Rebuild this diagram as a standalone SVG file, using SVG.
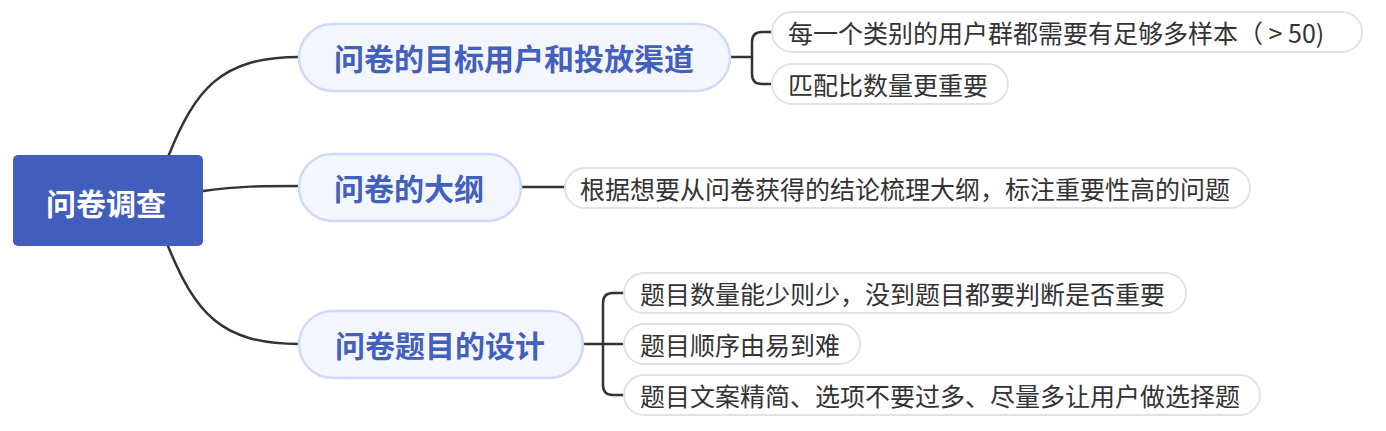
<svg xmlns="http://www.w3.org/2000/svg" width="1386" height="431" viewBox="0 0 1386 431">
<style>
text{font-family:"Noto Sans CJK SC","Noto Sans",sans-serif;dominant-baseline:central;text-anchor:middle}
.root{fill:#425EBD}
.rt{fill:#fff;font-size:30px;font-weight:bold}
.br{fill:#F4F6FE;stroke:#CFD9FA;stroke-width:2.5}
.bt{fill:#4260BD;font-size:30px;font-weight:bold}
.lf{fill:#fff;stroke:#E2E2E2;stroke-width:2}
.lt{fill:#333;font-size:25px;text-anchor:start}
.c{fill:none;stroke:#333;stroke-width:2.5;stroke-linecap:round}
</style>
<g id="connectors">
<path class="c" d="M168,157 C195,90 220,57 299,57"/>
<path class="c" d="M203,191 C240,186 260,186 299,186"/>
<path class="c" d="M168,246 C195,312 220,344 299,344"/>
<path class="c" d="M730,57 H752"/>
<path class="c" d="M772,32 H762 Q752,32 752,42 V74 Q752,84 762,84 H772"/>
<path class="c" d="M521,187 H565"/>
<path class="c" d="M583,344 H624"/>
<path class="c" d="M624,293 H613 Q603,293 603,303 V385 Q603,395 613,395 H624"/>
</g>
<g id="root">
<rect class="root" x="13" y="155" width="190" height="91" rx="5"/>
<text class="rt" x="106" y="202">问卷调查</text>
</g>
<g id="branch1">
<rect class="br" x="299" y="24" width="431" height="67" rx="33.5"/>
<text class="bt" x="514" y="57">问卷的目标用户和投放渠道</text>
</g>
<g id="branch2">
<rect class="br" x="299" y="154" width="222" height="67" rx="33.5"/>
<text class="bt" x="409" y="187">问卷的大纲</text>
</g>
<g id="branch3">
<rect class="br" x="299" y="311" width="284" height="67" rx="33.5"/>
<text class="bt" x="440" y="344">问卷题目的设计</text>
</g>
<g id="leaf1a">
<rect class="lf" x="772" y="12" width="590" height="40" rx="20"/>
<text class="lt" x="788" y="32">每一个类别的用户群都需要有足够多样本（ &gt; 50)</text>
</g>
<g id="leaf1b">
<rect class="lf" x="772" y="64" width="236" height="40" rx="20"/>
<text class="lt" x="788" y="84">匹配比数量更重要</text>
</g>
<g id="leaf2a">
<rect class="lf" x="565" y="168" width="685" height="40" rx="20"/>
<text class="lt" x="580" y="188">根据想要从问卷获得的结论梳理大纲，标注重要性高的问题</text>
</g>
<g id="leaf3a">
<rect class="lf" x="624" y="273" width="562" height="40" rx="20"/>
<text class="lt" x="640" y="293">题目数量能少则少，没到题目都要判断是否重要</text>
</g>
<g id="leaf3b">
<rect class="lf" x="624" y="324" width="236" height="40" rx="20"/>
<text class="lt" x="640" y="344">题目顺序由易到难</text>
</g>
<g id="leaf3c">
<rect class="lf" x="624" y="375" width="636" height="40" rx="20"/>
<text class="lt" x="640" y="395">题目文案精简、选项不要过多、尽量多让用户做选择题</text>
</g>
</svg>
